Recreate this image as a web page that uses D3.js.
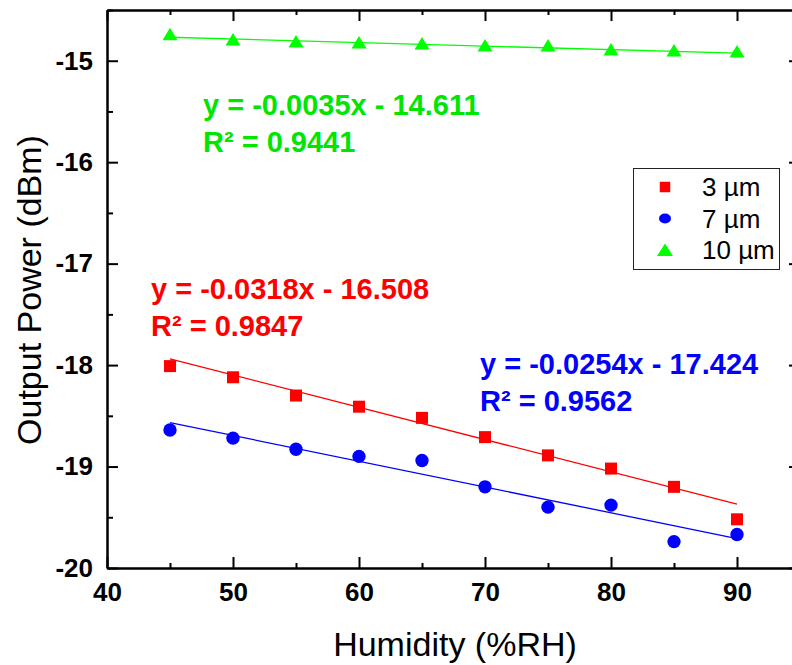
<!DOCTYPE html>
<html>
<head>
<meta charset="utf-8">
<script src="https://cdn.jsdelivr.net/npm/d3@7"></script>
<style>
  body { margin: 0; background: #fff; }
  svg { display: block; font-family: Arial, "Liberation Sans", sans-serif; }
</style>
</head>
<body>
<svg id="chart"></svg>
<script>
// values
const humidity = [45, 50, 55, 60, 65, 70, 75, 80, 85, 90];
const power3um = [-18.01, -18.12, -18.30, -18.41, -18.52, -18.71, -18.89, -19.02, -19.20, -19.52];
const power7um = [-18.64, -18.72, -18.83, -18.90, -18.94, -19.20, -19.40, -19.38, -19.74, -19.67];
const power10um = [-14.74, -14.79, -14.81, -14.82, -14.83, -14.85, -14.85, -14.89, -14.90, -14.91];

const seriesNames = ["3 µm", "7 µm", "10 µm"];
const fitSlopes = [-0.0318, -0.0254, -0.0035];
const fitIntercepts = [-16.508, -17.424, -14.611];
const fitEquations = ["y = -0.0318x - 16.508", "y = -0.0254x - 17.424", "y = -0.0035x - 14.611"];
const fitR2 = ["R² = 0.9847", "R² = 0.9562", "R² = 0.9441"];

const xMajorTicks = [40, 50, 60, 70, 80, 90];
const xMinorTicks = [45, 55, 65, 75, 85, 95];
const yMajorTicks = [-20, -19, -18, -17, -16, -15];
const yMinorTicks = [-19.5, -18.5, -17.5, -16.5, -15.5, -14.5];

const width = 792, height = 665;
const colors = ["#ff0000", "#0000ff", "#00ff00"];
const textColors = ["#ff0000", "#0000ff", "#00e600"];

const svg = d3.select("#chart").attr("width", width).attr("height", height);

const x = d3.scaleLinear().domain([40, 95]).range([107, 800]);
const y = d3.scaleLinear().domain([-20, -14.5]).range([568, 10]);

const series = [power3um, power7um, power10um].map((vals, i) => ({
  name: seriesNames[i],
  color: colors[i],
  points: humidity.map((h, j) => ({ x: h, y: vals[j] }))
}));

// axes, ticks pointing inward
function styleAxis(g) {
  g.selectAll("path, line").attr("stroke", "#000").attr("stroke-width", 2);
  g.selectAll("text").attr("font-size", 26).attr("font-weight", "bold")
    .attr("fill", "#000").attr("font-family", "Arial, 'Liberation Sans', sans-serif");
}

svg.append("g").attr("transform", "translate(0,568)")
  .call(d3.axisBottom(x).tickValues(xMinorTicks).tickSize(-5).tickSizeOuter(0).tickFormat(""))
  .call(styleAxis);
svg.append("g").attr("transform", "translate(0,568)")
  .call(d3.axisBottom(x).tickValues(xMajorTicks).tickSize(-11).tickSizeOuter(0).tickPadding(15))
  .call(styleAxis);

svg.append("g").attr("transform", "translate(0,10)")
  .call(d3.axisTop(x).tickValues(xMinorTicks).tickSize(-5).tickSizeOuter(0).tickFormat(""))
  .call(styleAxis);
svg.append("g").attr("transform", "translate(0,10)")
  .call(d3.axisTop(x).tickValues(xMajorTicks).tickSize(-11).tickSizeOuter(0).tickFormat(""))
  .call(styleAxis);

svg.append("g").attr("transform", "translate(107,0)")
  .call(d3.axisLeft(y).tickValues(yMinorTicks).tickSize(-6).tickSizeOuter(0).tickFormat(""))
  .call(styleAxis);
svg.append("g").attr("transform", "translate(107,0)")
  .call(d3.axisLeft(y).tickValues(yMajorTicks).tickSize(-11).tickSizeOuter(0).tickPadding(14)
    .tickFormat(d3.format("d")))
  .call(styleAxis);

svg.append("g").attr("transform", "translate(800,0)")
  .call(d3.axisRight(y).tickValues(yMinorTicks).tickSize(-6).tickSizeOuter(0).tickFormat(""))
  .call(styleAxis);
svg.append("g").attr("transform", "translate(800,0)")
  .call(d3.axisRight(y).tickValues(yMajorTicks).tickSize(-11).tickSizeOuter(0).tickFormat(""))
  .call(styleAxis);

// the minus sign in tick labels is a plain hyphen
svg.selectAll(".tick text").each(function () {
  const t = d3.select(this);
  t.text(t.text().replace("−", "-"));
});

// axis titles
svg.append("text")
  .attr("x", 455).attr("y", 656)
  .attr("text-anchor", "middle")
  .attr("font-size", 34)
  .text("Humidity (%RH)");

svg.append("text")
  .attr("transform", "translate(41,290) rotate(-90)")
  .attr("text-anchor", "middle")
  .attr("font-size", 34)
  .text("Output Power (dBm)");

// linear fits
series.forEach((s, i) => {
  const x0 = d3.min(humidity), x1 = d3.max(humidity);
  svg.append("line")
    .attr("x1", x(x0)).attr("y1", y(fitSlopes[i] * x0 + fitIntercepts[i]))
    .attr("x2", x(x1)).attr("y2", y(fitSlopes[i] * x1 + fitIntercepts[i]))
    .attr("stroke", s.color)
    .attr("stroke-width", 1.3);
});

// markers
const markerPath = [
  d3.symbol().type(d3.symbolSquare).size(144)(),
  d3.symbol().type(d3.symbolCircle).size(140)(),
  "M0,-6.5L7.5,6L-7.5,6Z"
];

series.forEach((s, i) => {
  svg.append("g").selectAll("path")
    .data(s.points)
    .join("path")
    .attr("transform", d => `translate(${x(d.x)},${y(d.y)})`)
    .attr("d", markerPath[i])
    .attr("fill", s.color);
});

// fit equations
const labelPos = [
  { x: 151, y: 299 },
  { x: 480, y: 374 },
  { x: 203, y: 115 }
];
labelPos.forEach((p, i) => {
  const t = svg.append("text")
    .attr("x", p.x).attr("y", p.y)
    .attr("font-size", 29)
    .attr("font-weight", "bold")
    .attr("fill", textColors[i]);
  t.append("tspan").text(fitEquations[i]);
  t.append("tspan").attr("x", p.x).attr("dy", 37).text(fitR2[i]);
});

// legend
const legend = svg.append("g");
legend.append("rect")
  .attr("x", 633.5).attr("y", 168.5)
  .attr("width", 146).attr("height", 101)
  .attr("fill", "#fff")
  .attr("stroke", "#222")
  .attr("stroke-width", 1);

const legendMarks = [
  d3.symbol().type(d3.symbolSquare).size(110)(),
  "M-6,0A6,5 0 1,0 6,0A6,5 0 1,0 -6,0Z",
  "M0,-6.5L8,6L-8,6Z"
];
seriesNames.forEach((name, i) => {
  const ly = 187 + i * 31.5;
  legend.append("path")
    .attr("transform", `translate(665,${ly})`)
    .attr("d", legendMarks[i])
    .attr("fill", colors[i]);
  legend.append("text")
    .attr("x", 702).attr("y", ly)
    .attr("dy", "0.35em")
    .attr("font-size", 26)
    .attr("fill", "#000")
    .text(name);
});
</script>
</body>
</html>
